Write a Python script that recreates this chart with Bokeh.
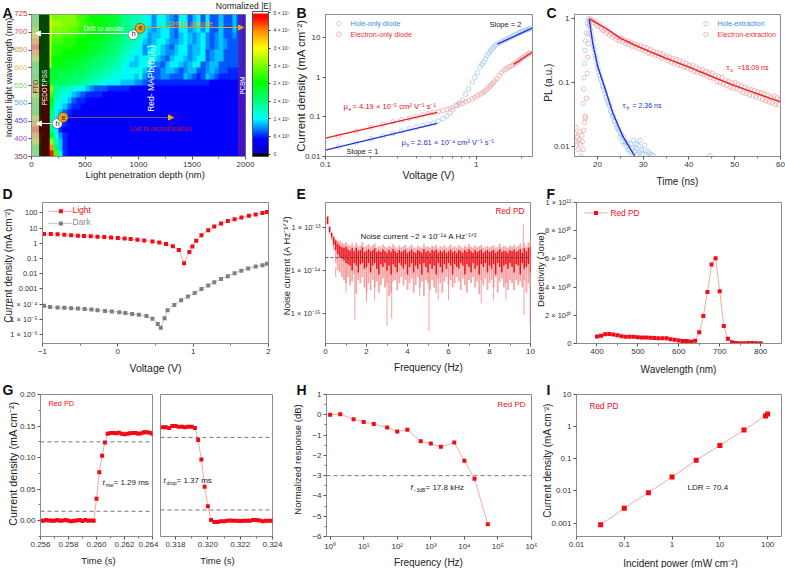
from bokeh.embed import file_html
from bokeh.resources import INLINE
from bokeh.plotting import figure
from bokeh.layouts import column, row
from bokeh.core.properties import value
from bokeh.models import (Range1d, FixedTicker, Span, Arrow, NormalHead, ColorBar,
                          LinearColorMapper, NumeralTickFormatter)
import numpy as np

SANS = "Liberation Sans"
RED, PALE = "#f40a14", "#f5a8a8"
GRAY, PALEG = "#7f7f7f", "#c4c4c4"
BLUE, PBLUE = "#2233dd", "#a9c8ee"
FITRED, PRED = "#ee1c24", "#f0a9a9"

# ---------------- A: field map (base-36 levels, top row first)
field_rows = [
 "gghh m mmmmm kkjii ihhgg ddccb a979a 876a9 68969 66866 865",
 "iihh n nnmmm lkjji ihhgf ddccb a979a 876a9 68969 66866 865",
 "llhh m mmmll kjjii hhggf ddccb a8789 97699 78979 66866 865",
 "pphh l llkkk jjiih hggff dcccb 97889 97689 87897 67866 765",
 "uuhh k kkjjj iiihh ggffe dccba 8789a 87789 87897 67876 665",
 "xxhh j jjjji iihhg gfeee ccbb9 789a8 76899 78897 67876 665",
 "uuhh j jjiii hhhgg ffeed cba99 79a98 77899 78896 78866 665",
 "nnhh i iihhh hggff eeddc ba989 9aa87 68998 78996 78866 665",
 "iihh h hhhgg gffee eddcc a9889 a9776 89987 89967 88666 665",
 "ffhh g ggggf ffeed dccbb a9aaa 87667 88767 88667 87665 555",
 "iiii g gfffe eeddc cbbaa 9998a 76667 76668 76568 76555 555",
 "mmii f ffeee ddcbb aa999 88877 65555 55555 55555 44444 444",
 "ssxx m dccba 99876 66555 55444 44444 44444 44444 44444 444",
 "nnxx k cba98 76555 54444 44444 44444 44444 44444 44444 444",
 "jjxx i ba986 55444 44444 44444 44444 44444 44444 44444 444",
 "ggxx g a9865 54444 44444 44444 44444 44444 44444 44444 444",
 "iixx e a8654 44444 44444 44444 44444 44444 44444 44444 444",
 "nnxx d 97544 44444 44444 44444 44444 44444 44444 44444 444",
 "uuxx c 96544 44444 44444 44444 44444 44444 44444 44444 444",
 "xxxx d 95444 44444 44444 44444 44444 44444 44444 44444 444",
 "uuxx g a7544 44444 44444 44444 44444 44444 44444 44444 444",
 "nnxx n c8544 44444 44444 44444 44444 44444 44444 44444 444",
 "hhxx u e8544 44444 44444 44444 44444 44444 44444 44444 444",
 "ffxx x k9544 44444 44444 44444 44444 44444 44444 44444 444",
]
cbar_ticks = [0, 6250, 12500, 18750, 25000, 31250, 37500, 43750, 50000]
cbar_labels = ["0", "6 × 10³", "1 × 10⁴", "2 × 10⁴", "2 × 10⁴", "3 × 10⁴", "3 × 10⁴", "4 × 10⁴", "5 × 10⁴"]
wave_ticks = [350, 400, 450, 500, 550, 600, 650, 700, 750]
wave_labels = ["350", "400", "450", "500", "550", "600", "650", "700", "725"]
wave_colors = ["#7a3a60", "#b24ac8", "#4848e8", "#58a8f4", "#78dc70", "#ecc04c", "#e89048", "#e05050", "#c83a3a"]

# ---------------- B: space-charge-limited current
b_v = [0.122, 0.16, 0.2, 0.24, 0.28, 0.32, 0.36, 0.40, 0.44, 0.48, 0.52, 0.56, 0.60, 0.64, 0.67, 0.70,
       0.74, 0.77, 0.81, 0.85, 0.89, 0.94, 0.98, 1.02, 1.06, 1.09, 1.12, 1.15, 1.18, 1.21, 1.24, 1.27, 1.30,
       1.33, 1.37, 1.42, 1.47, 1.52, 1.57, 1.62, 1.67, 1.72, 1.77, 1.82, 1.87, 1.92, 1.97, 2.02, 2.07, 2.12, 2.17, 2.22, 2.27]
b_hole = [.0175, .022, .028, .033, .038, .044, .05, .055, .06, .066, .07, .078, .09, .105, .125, .15,
          .2, .225, .26, .37, .51, .75, 1.0, 1.3, 1.8, 2.1, 2.4, 2.9, 3.5, 4.0, 4.6, 5.1, 5.6,
          6.2, 6.8, 7.3, 7.8, 8.3, 8.8, 9.4, 10, 10.6, 11.2, 11.8, 12.4, 13, 13.6, 14.2, 14.7, 15.2, 15.7, 16.2, 16.8]
b_elec = [.033, .043, .054, .065, .075, .085, .092, .103, .112, .12, .128, .135, .145, .155, .165, .175,
          .19, .205, .22, .24, .26, .285, .31, .34, .37, .395, .42, .46, .5, .55, .6, .66, .72,
          .8, .92, 1.1, 1.3, 1.5, 1.6, 1.75, 1.85, 1.95, 2.1, 2.25, 2.45, 2.65, 2.85, 3.05, 3.25, 3.45, 3.65, 3.85, 4.1]
b_fit_v_low = [0.1, 0.55]
b_fit_hole_low = [.0145, .068]
b_fit_elec_low = [.029, .13]
b_fit_v_hole_high = [1.38, 2.36]
b_fit_hole_high = [6.8, 17.5]
b_fit_v_elec_high = [1.77, 2.36]
b_fit_elec_high = [2.1, 4.3]

# ---------------- C: PL decay
c_hole_t = [16.9, 17.0, 17.1, 17.2, 17.3, 17.4, 17.6, 17.8, 18.0, 18.1, 18.3, 18.5, 18.7, 18.9, 19.1, 19.3, 19.5, 19.7, 19.9,
            20.1, 20.3, 20.5, 20.7, 20.9, 21.1, 21.3, 21.5, 21.7, 21.9, 22.1, 22.3, 22.5, 22.7, 22.9, 23.1, 23.3, 23.5, 23.7,
            23.9, 24.1, 24.3, 24.5, 24.7, 24.9, 25.1, 25.3, 25.5, 25.7, 25.9, 26.1, 26.3, 26.5, 26.7, 26.9, 27.1, 27.3, 27.5,
            27.7, 27.9, 28.1, 28.3, 28.5, 28.7, 28.9, 29.1, 29.3, 29.5, 29.7, 30, 30.3, 30.6, 31, 31.3, 31.7, 32.2, 44.6]
c_hole = [.047, .08, .12, .2, .32, .45, .6, .85, 1, .95, .8, .68, .55, .47, .38, .33, .27, .24, .2,
          .17, .15, .13, .115, .105, .09, .085, .075, .068, .06, .055, .05, .045, .043, .036, .034, .03, .03, .025,
          .025, .022, .02, .019, .018, .014, .016, .015, .012, .014, .011, .012, .01, .0115, .009, .01, .0085, .011, .008,
          .0095, .0125, .0085, .0095, .011, .0075, .0105, .008, .0125, .0085, .009, .0075, .0105, .0075, .0085, .008, .0075, .0073, .0072]
c_elec_rise_t = [15, 15.2, 15.3, 15.5, 15.6, 15.8, 16, 16.1, 16.3, 16.4, 16.6, 16.7, 16.9, 17, 17.2, 17.3, 17.4, 17.6, 17.8, 17.9, 18, 18.1, 18.2]
c_elec_rise = [.016, .012, .02, .011, .014, .009, .013, .017, .011, .007, .015, .012, .009, .018, .024, .03, .028, .057, .14, .25, .41, .58, .8]
c_elec = [1, .95, .88, .92, .80, .76, .82, .70, .66, .71, .60, .64, .56, .59, .52, .55, .48, .51, .46,
          .50, .44, .47, .41, .45, .40, .43, .37, .41, .36, .39, .34, .38, .33,
          .36, .31, .35, .29, .33, .28, .31, .27, .30, .26, .29, .24, .28, .25,
          .26, .22, .25, .21, .24, .20, .23, .19, .22, .185, .21, .175, .20, .17,
          .19, .16, .185, .15, .175, .145, .165, .14, .16, .135, .15, .125, .145, .12,
          .14, .115, .13, .105, .125, .10, .12, .095, .11, .09, .105, .085, .10, .082,
          .10, .08, .095, .075, .09, .07, .085, .068, .08, .065, .078, .062, .075, .06,
          .072, .058, .07, .055, .068, .052, .065, .05, .06, .048, .062, .046, .058, .045, .056]
c_fit_t_h = [18.2, 19, 20.1, 21.8, 23.4, 25.6, 28.2]
c_fit_h = [1, .41, .176, .076, .033, .0143, .007]
c_fit_t_e = [18.3, 20, 22, 25, 30, 35, 40, 45, 50, 55, 60]
c_fit_e = [1, .85, .7, .5, .34, .24, .176, .125, .09, .067, .05]

# ---------------- D: J-V
d_light_v = [-.98, -.89, -.8, -.71, -.62, -.53, -.45, -.36, -.27, -.18, -.09, 0, .09, .17, .26, .35, .46, .55, .64, .73, .81, .88,
             .95, .99, 1.04, 1.11, 1.2, 1.28, 1.37, 1.46, 1.55, 1.64, 1.74, 1.83, 1.92, 1.98]
d_light = [4.2, 4.1, 3.9, 3.7, 3.4, 3.2, 3.1, 2.9, 2.7, 2.6, 2.4, 2.25, 2.05, 1.9, 1.7, 1.55, 1.35, 1.15, .92, .65, .36, .05,
           .27, .62, 1.5, 3.4, 7.2, 13, 20, 29, 38, 50, 65, 80, 100, 115]
d_dark_v = [-.98, -.9, -.8, -.71, -.62, -.53, -.44, -.35, -.27, -.17, -.08, .02, .1, .19, .28, .38, .46, .53, .57, .62, .66, .75,
            .84, .93, 1.02, 1.11, 1.2, 1.28, 1.37, 1.46, 1.55, 1.64, 1.73, 1.83, 1.92, 1.98]
d_dark = [8e-5, 6.5e-5, 6e-5, 5.8e-5, 5.4e-5, 5.2e-5, 4.8e-5, 4.4e-5, 4e-5, 3.6e-5, 3.3e-5, 3e-5, 2.6e-5, 2.3e-5, 2e-5, 1.7e-5,
          1.1e-5, 5e-6, 2.8e-6, 1.2e-5, 4e-5, 9e-5, 1.8e-4, 3.2e-4, 5.5e-4, 1e-3, 1.7e-3, 2.8e-3, 4.5e-3, 7e-3, 1.1e-2, 1.6e-2, 2.2e-2, 3e-2, 3.6e-2, 4.5e-2]

# ---------------- E: noise current, per 0.1 Hz bin, in units of 1e-14
e_bins = [round(0.1 * i, 1) for i in range(1, 101)]
e_pale_lo = [12, 7, 5, 3, 1.5, 1, .9, .7, .6, .5,
             .7, .45, .55, .8, .28, .6, .5, .7, .4, .3,
             .5, .35, .6, .4, .55, .3, .45, .65, .4, .5,
             .25, .3, .55, .6, .35, .5, .7, .45, .6, .35,
             .5, .65, .3, .45, .7, .4, .55, .25, .6, .5,
             .35, .6, .4, .3, .65, .5, .3, .55, .7, .45,
             .6, .4, .5, .7, .55, .35, .65, .45, .3, .6,
             .5, .7, .4, .55, .28, .6, .45, .65, .35, .5,
             .6, .4, .7, .3, .55, .65, .4, .5, .35, .6,
             .5, .35, .6, .45, .55, .4, .6, .3, .5, .4]
e_pale_hi = [19, 11, 8, 6.5, 5.5, 5, 4.8, 4.5, 4.2, 4.6,
             4, 3.8, 4.3, 3.6, 4.4, 3.7, 3.9, 4.6, 3.5, 3.8,
             4.1, 3.6, 3.9, 4.3, 3.4, 3.7, 3.5, 4, 3.6, 3.4,
             3.8, 3.5, 4.1, 3.6, 3.3, 3.9, 3.5, 3.7, 4, 3.4,
             3.6, 4, 3.5, 3.3, 3.8, 3.6, 3.4, 4.1, 3.5, 3.7,
             3.4, 3.8, 3.6, 4, 3.3, 3.7, 3.5, 3.9, 3.4, 3.6,
             4, 3.5, 3.7, 3.4, 3.9, 3.6, 3.3, 3.8, 3.5, 4.1,
             3.6, 3.4, 3.9, 3.5, 3.7, 4, 3.4, 3.6, 3.8, 3.5,
             3.7, 3.9, 3.4, 3.6, 4.2, 3.5, 3.8, 3.6, 3.4, 3.9,
             3.6, 4, 3.5, 3.8, 4.2, 3.4, 4.3, 3.6, 4.5, 5]
e_core_lo = [12, 8, 6, 4, 3, 2.4, 2, 1.9, 1.7, 1.5,
             1.4, 1.3, 1.0, 1.5, 1.3, .9, 1.4, 1.5, 1.1, 1.2,
             1.5, .9, 1.3, 1.5, 1.1, .8, 1.4, 1.2, 1.5, 1.0,
             1.3, .8, 1.4, 1.2, .9, 1.5, 1.3, 1.1, 1.4, .8,
             1.2, 1.5, .9, 1.3, 1.1, 1.4, .8, 1.5, 1.2, .9,
             1.4, 1.1, 1.3, .8, 1.5, 1.2, .9, 1.4, 1.1, 1.5,
             1.3, .8, 1.4, 1.2, 1.1, 1.5, 1.3, .8, 1.4, 1.2,
             .9, 1.5, 1.1, 1.3, .8, 1.4, 1.2, 1.5, .9, 1.3,
             1.1, 1.4, .8, 1.5, 1.2, .9, 1.3, 1.4, 1.1, 1.5,
             1.2, .9, 1.4, 1.3, .8, 1.5, 1.1, 1.2, 1.4, .9]
e_core_hi = [18, 10.5, 7.5, 6, 5, 4.2, 3.8, 3.5, 3.4, 3.6,
             3.1, 2.9, 3.3, 2.8, 3.4, 2.9, 3.0, 3.5, 2.7, 2.9,
             3.2, 2.8, 3.0, 3.3, 2.7, 2.9, 2.7, 3.1, 2.8, 2.6,
             3.0, 2.7, 3.2, 2.8, 2.6, 3.0, 2.7, 2.9, 3.1, 2.6,
             2.8, 3.1, 2.7, 2.6, 3.0, 2.8, 2.6, 3.2, 2.7, 2.9,
             2.6, 3.0, 2.8, 3.1, 2.6, 2.9, 2.7, 3.0, 2.6, 2.8,
             3.1, 2.7, 2.9, 2.6, 3.0, 2.8, 2.6, 3.0, 2.7, 3.2,
             2.8, 2.6, 3.0, 2.7, 2.9, 3.1, 2.6, 2.8, 3.0, 2.7,
             2.9, 3.0, 2.6, 2.8, 3.2, 2.7, 2.9, 2.8, 2.6, 3.0,
             2.8, 3.1, 2.7, 2.9, 3.2, 2.6, 3.3, 2.8, 3.4, 3.7]
e_spike_x = [.5, 1.0, 1.43, 2.0, 2.4, 3.0, 3.23, 4.6, 5.05, 5.5, 6.0, 7.6, 8.2, 8.8, 9.65, 9.68, 9.98]
e_spike_y = [.7, .3, .07, .18, .2, .05, .075, .25, .038, .2, .2, .17, .2, .2, 12, .09, .055]

# ---------------- F: detectivity, in units of 1e10
f_wave = [400, 410, 420, 430, 440, 450, 460, 470, 480, 490, 500, 510, 520, 530, 540, 550, 560, 570, 580, 590, 600,
          610, 620, 630, 640, 650, 660, 670, 680, 690, 700, 710, 720, 730, 740, 750, 760, 770, 780, 790, 800]
f_det = [.5, .55, .65, .67, .63, .58, .52, .48, .48, .47, .45, .43, .42, .41, .39, .38, .38, .37, .31, .26, .22,
         .18, .18, .13, .2, .8, 1.95, 3.65, 5.6, 6.05, 3.7, 1.25, .33, .08, .03, .02, .02, .03, .04, .01, .01]

# ---------------- G: transient response
g_rise_t = [0.256 + 0.0002 * i for i in range(41)]
g_rise = [.0005, 0, .001, .0005, 0, 0, .001, 0, .0005, .001, 0, -.001, 0, .0005, .001, -.0005, .001, 0, .0005, 0,
          .035, .077, .103, .124, .138, .139, .139, .1385, .1395, .138, .137, .138, .1385, .139, .139, .138, .1385, .14, .14, .1395, .138]
g_drop_t = [0.3172 + 0.0002 * i for i in range(35)]
g_drop = [.148, .148, .147, .15, .15, .149, .149, .148, .149, .149, .147,
          .128, .097, .054, .023, .001, -.002, -.002, -.001, -.001, 0, .0005, 0, 0, -.0005, 0, 0, 0, .001, .001, .0005, -.001, 0, 0, 0]

# ---------------- H, I
h_freq = [1, 2, 5, 10, 20, 50, 100, 200, 500, 1e3, 2e3, 5e3, 1e4, 2e4, 5e4]
h_resp = [0, .03, -.22, -.35, -.45, -.63, -.83, -.74, -1.3, -1.42, -1.58, -1.37, -2.27, -3.15, -5.4]
i_power = [.032, .1, .32, 1, 3.2, 10, 32, 90, 100]
i_j = [.00088, .0029, .0088, .027, .09, .26, .78, 2.15, 2.45]

# ---------------- helpers
GEO = {}
PAGE_H = 568
overlay = figure(width=785, height=PAGE_H, x_range=Range1d(0, 785), y_range=Range1d(PAGE_H, 0), x_axis_location=None, y_axis_location=None,
                 output_backend="svg", toolbar_location=None, min_border=0, margin=(-PAGE_H, 0, 0, 0))
overlay.grid.visible = False
overlay.outline_line_color = None
overlay.background_fill_color = None
overlay.border_fill_color = None


def panel(box, frame, xr, yr, x_type="linear", y_type="linear"):
    x0, x1, y0, y1 = box
    fx0, fx1, fy0, fy1 = frame
    p = figure(width=x1 - x0, height=y1 - y0, x_range=Range1d(*xr), y_range=Range1d(*yr),
               x_axis_type=x_type, y_axis_type=y_type, output_backend="svg", toolbar_location=None,
               min_border_left=fx0 - x0, min_border_right=x1 - fx1, min_border_top=fy0 - y0, min_border_bottom=y1 - fy1)
    p.grid.visible = False
    p.outline_line_color = "#8c8c8c"
    p.outline_line_width = 1
    p.background_fill_color = None
    p.border_fill_color = None
    for ax in (p.xaxis[0], p.yaxis[0]):
        ax.axis_line_color = "#8c8c8c"
        ax.major_tick_line_color = "#555555"
        ax.minor_tick_line_color = "#777777"
        ax.major_tick_in = 0
        ax.major_tick_out = 3
        ax.minor_tick_in = 0
        ax.minor_tick_out = 2
        ax.major_label_standoff = 2
        ax.major_label_text_font = SANS
        ax.major_label_text_font_size = "8px"
        ax.major_label_text_color = "#333333"
    GEO[p.id] = (fx0, fy1)
    return p


def ticks(ax, major, minor=None, labels=None):
    ax.ticker = FixedTicker(ticks=list(major), minor_ticks=list(minor or []))
    if labels is not None:
        ax.major_label_overrides = {float(k): v for k, v in zip(major, labels)}


def note(px, py, text, color="#222222", size=8, align="left", angle=0, style="normal"):
    overlay.text([px], [py], text=[text], text_color=color, text_font=value(SANS), text_font_size=f"{size}px",
                 text_align=align, text_baseline="middle", angle=angle, angle_units="deg", text_font_style=style)


def xtitle(px, py, text, size=10):
    note(px, py, text, size=size, align="center")


def ytitle(px, py, text, size=10):
    note(px, py, text, size=size, align="center", angle=90)


def letter(px, py, text):
    note(px, py, text, color="#111111", size=14, style="bold")


def arrow(p, a, b, color, head=5, dash="solid", width=1):
    fx, fy = GEO[p.id]
    p.add_layout(Arrow(end=NormalHead(size=head, fill_color=color, line_color=color), line_color=color, line_width=width,
                       line_dash=dash, x_start=a[0] - fx, y_start=fy - a[1], x_end=b[0] - fx, y_end=fy - b[1],
                       start_units="screen", end_units="screen"))


def points(p, x, y, color=RED, line=PALE, size=4):
    p.line(x, y, line_color=line, line_width=1)
    p.scatter(x, y, marker="square", size=size, fill_color=color, line_color=color, line_width=0)


def rings(p, x, y, color):
    p.scatter(x, y, marker="circle", size=4.5, fill_color=None, line_color=color, line_width=.8)


def dashed(p, y):
    p.add_layout(Span(location=y, dimension="width", line_color="#555555", line_dash="4 3", line_width=.8))


# ---------------- palette of the colour bar
stops = [(0, (0, 0, 0)), (.018, (0, 0, 0)), (.02, (0, 0, 200)), (.12, (0, 0, 255)), (.26, (0, 255, 255)), (.38, (0, 255, 128)),
         (.51, (0, 255, 0)), (.75, (255, 255, 0)), (.87, (255, 140, 0)), (.96, (255, 0, 0)), (.985, (255, 0, 0)), (.99, (255, 255, 255)), (1, (255, 255, 255))]
pos = np.linspace(0, 1, 256)
chan = [np.interp(pos, [s[0] for s in stops], [s[1][k] for s in stops]) for k in range(3)]
palette = ["#%02x%02x%02x" % (int(r), int(g), int(b)) for r, g, b in zip(*chan)]

# ---------------- A
a = panel((0, 291, 0, 186), (31, 245, 13, 156), (0, 2000), (350, 750))
field = np.array([[int(c, 36) / 35 for c in r.replace(" ", "")] for r in field_rows][::-1])
a.image(image=[field], x=0, y=350, dw=2000, dh=400, color_mapper=LinearColorMapper(palette=palette, low=0, high=1))
a.quad(left=[0], right=[70], bottom=[350], top=[750], fill_color="#c8c0b8", fill_alpha=.72, line_color=None)
a.quad(left=[70], right=[170], bottom=[350], top=[750], fill_color="black", fill_alpha=.72, line_color=None)
a.quad(left=[170], right=[185], bottom=[600], top=[750], fill_color="#f0f000", line_color=None)
a.quad(left=[1930], right=[2000], bottom=[350], top=[750], fill_color="#5a1ab0", fill_alpha=.75, line_color=None)
ticks(a.xaxis[0], [0, 500, 1000, 1500, 2000], [250, 750, 1250, 1750])
ticks(a.yaxis[0], wave_ticks, None, [""] * len(wave_ticks))
for t, lab, col in zip(wave_ticks, wave_labels, wave_colors):
    note(27, 156 - (t - 350) * 143 / 400, lab, color=col, align="right")
mapper = LinearColorMapper(palette=palette, low=-833, high=50417)
cb = ColorBar(color_mapper=mapper, width=16, height=145, location=(221, 0), padding=0, margin=0,
              ticker=FixedTicker(ticks=cbar_ticks), major_label_overrides={float(k): v for k, v in zip(cbar_ticks, cbar_labels)},
              major_label_text_font_size="5px", major_label_text_font=SANS, major_label_text_color="#333333",
              bar_line_color="#555555", major_tick_line_color="#333333", major_tick_in=0, major_tick_out=2, label_standoff=3)
a.add_layout(cb)
note(243, 5, "Normalized |E|", size=8.5, align="center")
xtitle(146, 174, "Light  penetration depth (nm)", 9.5)
ytitle(8, 77, "Incident light wavelength (nm)", 9)
letter(2, 12, "A")
note(103, 28, "Drift to anode", color="white", size=6.7, align="center")
note(190, 23, "Drift to cathode", color="#e8a810", size=6.5, align="center")
note(150, 78, "Red- MAPb(Br₁I₂)", color="white", size=8.5, align="center", angle=90)
note(160, 128, "Lost to recombination", color="#c8102e", size=6.5, align="center")
note(35, 86, "FTO", color="#333333", size=7, align="center", angle=90)
note(44, 87, "PEDOT:PSS", color="white", size=6.3, align="center", angle=90)
note(242, 85, "PCBM", color="white", size=6.3, align="center", angle=90)
arrow(a, (145, 27), (243, 27), "#e8a810")
arrow(a, (128, 33), (35, 33), "white")
arrow(a, (52, 123), (36, 123), "white")
arrow(a, (67, 117), (173, 117), "#e8a810", dash="1 1")
a.scatter([1323], [459], marker="circle", size=10, fill_color=None, line_color="#d02020", line_width=.7, line_dash="1 1")
a.scatter([950, 240], [693, 443], marker="circle", size=10, fill_color="white", line_color="#444444", line_width=.6)
a.scatter([1016, 295], [711, 460], marker="circle", size=10, fill_color="#f0a010", line_color="#444444", line_width=.6)
for px, py, t in ((133, 33, "h"), (57, 123, "h"), (140, 27, "e"), (63, 117, "e")):
    note(px, py, t, size=7.5, align="center")

# ---------------- B
b = panel((291, 541, 0, 186), (325, 532, 13, 157), (0.1, 2.36), (0.01, 38), x_type="log", y_type="log")
ticks(b.xaxis[0], [0.1, 1], [.2, .3, .4, .5, .6, .7, .8, .9, 2], ["0.1", "1"])
ticks(b.yaxis[0], [0.01, 0.1, 1, 10], None, ["0.01", "0.1", "1", "10"])
rings(b, b_v, b_hole, PBLUE)
rings(b, b_v, b_elec, PRED)
b.line(b_fit_v_low, b_fit_hole_low, line_color=BLUE, line_width=1.3)
b.line(b_fit_v_low, b_fit_elec_low, line_color=FITRED, line_width=1.3)
b.line(b_fit_v_hole_high, b_fit_hole_high, line_color=BLUE, line_width=1.3)
b.line(b_fit_v_elec_high, b_fit_elec_high, line_color=FITRED, line_width=1.3)
rings(b, [.1226], [22.4], PBLUE)
rings(b, [.1226], [12.1], PRED)
xtitle(428, 174, "Voltage (V)", 10.5)
ytitle(300, 85, "Current density (mA cm⁻²)", 11.5)
letter(296, 12, "B")
note(350, 23, "Hole-only diode", color="#3a8fe0", size=7.2)
note(350, 34, "Electron-only diode", color="#f03030", size=7.2)
note(489, 24, "Slope = 2", size=7.5)
note(346, 151, "Slope = 1", size=7.5)
note(343, 106, "μ", color=RED, size=7.6)
note(348, 108, "e", color=RED, size=5)
note(352, 106, "= 4.19 × 10⁻⁵ cm² V⁻¹ s⁻¹", color=RED, size=7.6)
note(401, 142, "μ", color=BLUE, size=7.6)
note(406, 144, "h", color=BLUE, size=5)
note(410, 142, "= 2.61 × 10⁻⁴ cm² V⁻¹ s⁻¹", color=BLUE, size=7.6)

# ---------------- C
c = panel((541, 785, 0, 186), (574, 780, 14, 157), (15, 60), (0.007, 1.17), y_type="log")
ticks(c.xaxis[0], [20, 30, 40, 50, 60], [25, 35, 45, 55])
ticks(c.yaxis[0], [0.01, 0.1, 1], None, ["0.01", "0.1", "1"])
rings(c, c_hole_t, c_hole, PBLUE)
rings(c, c_elec_rise_t, c_elec_rise, PRED)
rings(c, list(np.linspace(18.4, 60, len(c_elec))), c_elec, PRED)
c.line(c_fit_t_h, c_fit_h, line_color=BLUE, line_width=1.4)
c.line(c_fit_t_e, c_fit_e, line_color=FITRED, line_width=1.4)
rings(c, [43.7], [.836], PBLUE)
rings(c, [43.7], [.57], PRED)
xtitle(677, 181, "Time (ns)", 10)
ytitle(548, 82, "PL (a.u.)", 10)
letter(546, 12, "C")
note(717, 23, "Hole-extraction", color="#3a8fe0", size=7)
note(717, 34, "Electron-extraction", color="#f03030", size=7)
note(726, 67, "τ", color=RED, size=7.5)
note(730, 69, "c", color=RED, size=5)
note(737, 67, "=18.09 ns", color=RED, size=7)
note(622, 105, "τ", color=BLUE, size=7.5)
note(626, 107, "h", color=BLUE, size=5)
note(632, 105, "= 2.36 ns", color=BLUE, size=7)

# ---------------- D
d = panel((0, 278, 186, 378), (42, 268, 199, 343), (-1, 2), (2.6e-7, 486), y_type="log")
ticks(d.xaxis[0], [-1, 0, 1, 2], [-.5, .5, 1.5], ["−1", "0", "1", "2"])
ticks(d.yaxis[0], [1e-6, 1e-5, 1e-4, 1e-3, .01, .1, 1, 10, 100], None,
      ["1 × 10⁻⁶", "1 × 10⁻⁵", "1 × 10⁻⁴", "0.001", "0.01", "0.1", "1", "10", "100"])
d.yaxis[0].major_label_text_font_size = "7.5px"
points(d, d_light_v, d_light)
points(d, d_dark_v, d_dark, GRAY, PALEG)
d.line([-.92, -.6], [128, 128], line_color=PALE, line_width=1)
d.scatter([-.756], [128], marker="square", size=4, fill_color=RED, line_color=RED, line_width=0)
d.line([-.92, -.6], [20.6, 20.6], line_color=PALEG, line_width=1)
d.scatter([-.756], [20.6], marker="square", size=4, fill_color=GRAY, line_color=GRAY, line_width=0)
xtitle(155, 367, "Voltage (V)", 10.5)
ytitle(8, 265, "Current density (mA cm⁻²)", 10)
letter(2, 193, "D")
note(72, 209, "Light", color=RED, size=8.5)
note(72, 221, "Dark", color="#8c8c8c", size=8.5)

# ---------------- E
e = panel((278, 535, 186, 378), (325, 530, 199, 343), (0, 10), (1.95e-16, 3.9e-13), y_type="log")
ticks(e.xaxis[0], [0, 2, 4, 6, 8, 10], [1, 3, 5, 7, 9])
ticks(e.yaxis[0], [1e-15, 1e-14, 1e-13], None, ["1 × 10⁻¹⁵", "1 × 10⁻¹⁴", "1 × 10⁻¹³"])
e.yaxis[0].major_label_text_font_size = "7.5px"
sc = 1e-14
e.segment(e_bins, [v * sc for v in e_pale_lo], e_bins, [v * sc for v in e_pale_hi], line_color="#f5a8a8", line_width=1.8)
e.segment(e_spike_x, [1.2e-14] * len(e_spike_x), e_spike_x, [v * sc for v in e_spike_y], line_color="#f28a8a", line_width=.8)
e.segment(e_bins, [v * sc for v in e_core_lo], e_bins, [v * sc for v in e_core_hi], line_color="#f01018", line_width=1.5)
e.add_layout(Span(location=2e-14, dimension="width", line_color="#333333", line_dash="3 2", line_width=.8))
xtitle(428, 367, "Frequency (Hz)", 10)
ytitle(286, 265, "Noise current (A Hz⁻¹ᐟ²)", 9.5)
letter(296, 193, "E")
note(495, 210, "Red PD", color=RED, size=8.3)
note(360, 236, "Noise current ~2 × 10⁻¹⁴ A Hz⁻¹ᐟ²")

# ---------------- F
f = panel((535, 785, 186, 378), (576, 781, 202, 345), (350, 851), (0, 1e11))
ticks(f.xaxis[0], [400, 500, 600, 700, 800], [450, 550, 650, 750])
ticks(f.yaxis[0], [0, 2e10, 4e10, 6e10, 8e10, 1e11], None, ["0", "2 × 10¹⁰", "4 × 10¹⁰", "6 × 10¹⁰", "8 × 10¹⁰", "1 × 10¹¹"])
f.yaxis[0].major_label_text_font_size = "7.5px"
points(f, f_wave, [v * 1e10 for v in f_det])
f.line([370, 426], [9.26e10, 9.26e10], line_color=PALE, line_width=1)
f.scatter([397.6], [9.26e10], marker="square", size=4, fill_color=RED, line_color=RED, line_width=0)
xtitle(678, 369, "Wavelength (nm)", 10)
ytitle(540, 269, "Detectivity (Jone)", 9.7)
letter(546, 193, "F")
note(610, 212, "Red PD", color=RED, size=8.3)

# ---------------- G
g1 = panel((0, 158, 378, 568), (40, 152, 393, 536), (.256, .264), (-.025, .2))
ticks(g1.xaxis[0], [.256, .258, .26, .262, .264], [.257, .259, .261, .263])
g1.xaxis[0].formatter = NumeralTickFormatter(format="0.000")
ticks(g1.yaxis[0], [0, .05, .1, .15, .2], [.025, .075, .125, .175, -.025])
g1.yaxis[0].formatter = NumeralTickFormatter(format="0.00")
points(g1, g_rise_t, g_rise)
dashed(g1, .125)
dashed(g1, .015)
xtitle(98, 560, "Time (s)", 9.5)
ytitle(12, 463, "Current density (mA cm⁻²)", 10.8)
letter(2, 389, "G")
note(48, 403, "Red PD", color=RED, size=7.3)
note(102, 482, "t", style="italic")
note(105, 484, "rise", size=5)
note(113, 482, "= 1.29 ms")

g2 = panel((158, 286, 378, 568), (160, 272, 393, 536), (.31707, .324), (-.025, .2))
ticks(g2.xaxis[0], [.318, .32, .322, .324], [.319, .321, .323])
g2.xaxis[0].formatter = NumeralTickFormatter(format="0.000")
g2.yaxis.visible = False
points(g2, g_drop_t, g_drop)
dashed(g2, .132)
dashed(g2, .017)
xtitle(217, 560, "Time (s)", 9.5)
note(163, 480, "t", style="italic")
note(166, 482, "drop", size=5)
note(176, 480, "= 1.37 ms")

# ---------------- H
h = panel((286, 540, 378, 568), (326, 531, 393, 537), (.78, 1e6), (-6, 1), x_type="log")
ticks(h.xaxis[0], [1, 10, 100, 1e3, 1e4, 1e5, 1e6], None, ["10⁰", "10¹", "10²", "10³", "10⁴", "10⁵", "10⁶"])
ticks(h.yaxis[0], [-6, -5, -4, -3, -2, -1, 0, 1], [-5.5, -4.5, -3.5, -2.5, -1.5, -.5, .5], ["−6", "−5", "−4", "−3", "−2", "−1", "0", "1"])
dashed(h, -3)
points(h, h_freq, h_resp)
xtitle(428, 562, "Frequency (Hz)", 10)
ytitle(297, 459, "Normalized response (dB)", 9.5)
letter(296, 389, "H")
note(497, 404, "Red PD", color=RED, size=8)
note(410, 487, "f", style="italic")
note(413, 489, "−3dB", size=5)
note(425, 487, "= 17.8 kHz")

# ---------------- I
i = panel((540, 785, 378, 568), (576, 781, 394, 538), (.01, 195), (3.8e-4, 10), x_type="log", y_type="log")
ticks(i.xaxis[0], [.01, .1, 1, 10, 100], None, ["0.01", "0.1", "1", "10", "100"])
ticks(i.yaxis[0], [.001, .01, .1, 1, 10], None, ["0.001", "0.01", "0.1", "1", "10"])
points(i, i_power, i_j, size=5)
xtitle(680, 563, "Incident power (mW cm⁻²)", 10)
ytitle(547, 460, "Current density (mA cm⁻²)", 10)
letter(546, 389, "I")
note(589, 405, "Red PD", color=RED, size=8.3)
note(687, 487, "LDR = 70.4")

page = column(row(a, b, c, spacing=0), row(d, e, f, spacing=0), row(g1, g2, h, i, spacing=0), overlay, spacing=0)
open("out.html", "w").write(file_html(page, INLINE))
